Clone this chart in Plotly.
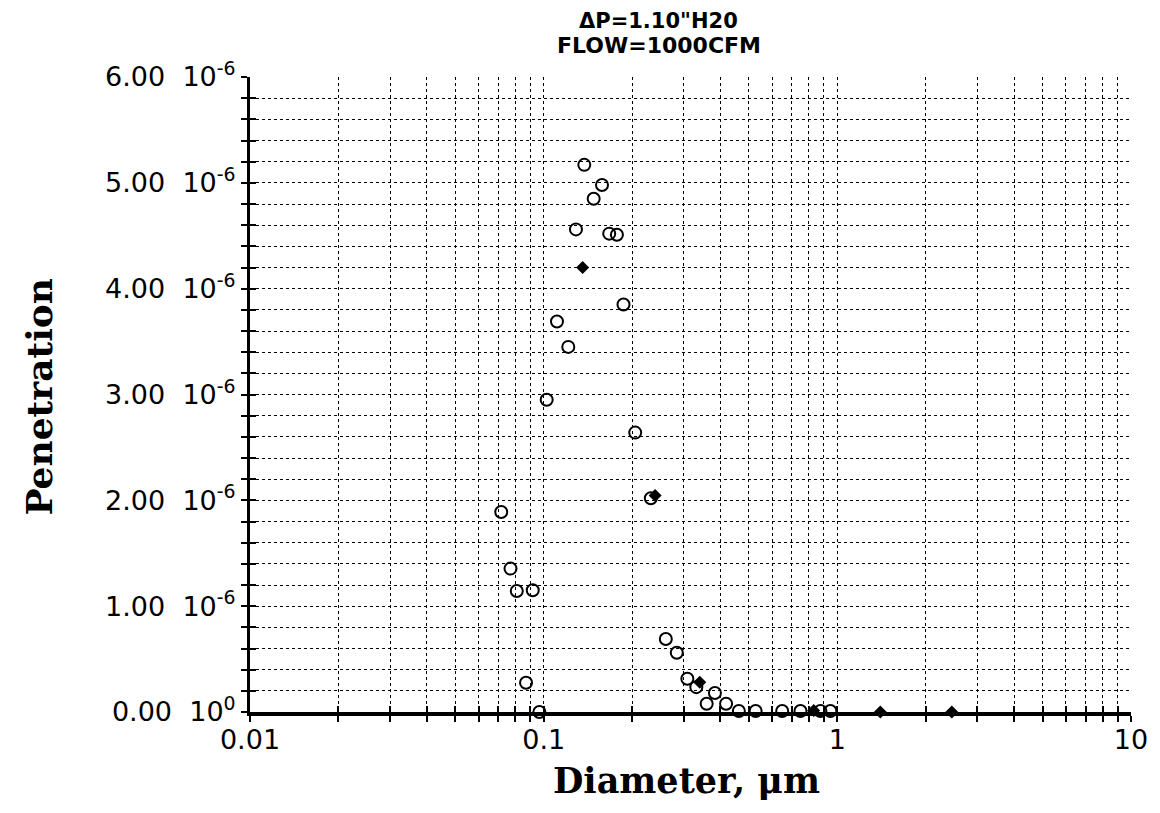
import plotly.graph_objects as go

# Open-circle series: diameter (um) and penetration
open_diam = [0.1375, 0.158, 0.148, 0.1288, 0.1672, 0.1776, 0.187, 0.111, 0.1213,
             0.1024, 0.205, 0.2317, 0.0717, 0.0771, 0.081, 0.0918, 0.0871, 0.0967,
             0.2606, 0.284, 0.3085, 0.331, 0.383, 0.359, 0.418, 0.462, 0.527,
             0.649, 0.749, 0.876, 0.947]
open_pen = [5.17e-6, 4.98e-6, 4.85e-6, 4.56e-6, 4.52e-6, 4.51e-6, 3.85e-6, 3.69e-6, 3.45e-6,
            2.95e-6, 2.64e-6, 2.02e-6, 1.89e-6, 1.355e-6, 1.143e-6, 1.15e-6, 0.276e-6, 0.0,
            0.69e-6, 0.56e-6, 0.314e-6, 0.235e-6, 0.18e-6, 0.078e-6, 0.078e-6, 0.01e-6, 0.01e-6,
            0.01e-6, 0.01e-6, 0.01e-6, 0.01e-6]

# Filled-diamond series
solid_diam = [0.1357, 0.2396, 0.340, 0.831, 1.401, 2.454]
solid_pen = [4.20e-6, 2.045e-6, 0.28e-6, 0.015e-6, 0.0, 0.0]

# Axis ticks / labels
x_decades = [0.01, 0.1, 1, 10]
x_decade_labels = ["0.01", "0.1", "1", "10"]
y_major = [0, 1e-6, 2e-6, 3e-6, 4e-6, 5e-6, 6e-6]
y_major_labels = ["0.00\u00a0\u00a010<sup>0</sup>", "1.00\u00a0\u00a010<sup>-6</sup>",
                  "2.00\u00a0\u00a010<sup>-6</sup>", "3.00\u00a0\u00a010<sup>-6</sup>",
                  "4.00\u00a0\u00a010<sup>-6</sup>", "5.00\u00a0\u00a010<sup>-6</sup>",
                  "6.00\u00a0\u00a010<sup>-6</sup>"]
title_lines = ["\u0394P=1.10\"H20", "FLOW=1000CFM"]
x_title = "Diameter, \u03bcm"
y_title = "Penetration"

# build full tick lists (grid at every 1..9 x decade, every 0.2e-6)
x_tickvals, x_ticktext = [], []
for d, lab in zip(x_decades[:-1], x_decade_labels[:-1]):
    for m in range(1, 10):
        x_tickvals.append(d * m)
        x_ticktext.append(lab if m == 1 else "")
x_tickvals.append(x_decades[-1])
x_ticktext.append(x_decade_labels[-1])

y_tickvals, y_ticktext = [], []
for i in range(31):
    v = i * 0.2e-6
    y_tickvals.append(v)
    y_ticktext.append(y_major_labels[i // 5] if i % 5 == 0 else "")

fig = go.Figure()
fig.add_trace(go.Scatter(
    x=open_diam, y=open_pen, mode="markers", cliponaxis=False,
    marker=dict(symbol="circle-open", size=12, color="black", line=dict(width=2, color="black")),
    showlegend=False))
fig.add_trace(go.Scatter(
    x=solid_diam, y=solid_pen, mode="markers", cliponaxis=False,
    marker=dict(symbol="diamond", size=10, color="black"),
    showlegend=False))
# invisible trace for the overlay axes carrying inward ticks
fig.add_trace(go.Scatter(x=[x_decades[0]], y=[y_major[0]], xaxis="x2", yaxis="y2",
                         mode="markers", marker=dict(opacity=0), showlegend=False,
                         hoverinfo="skip"))

tickfont = dict(family="DejaVu Sans", size=27, color="black")
x_range = [-2, 1]
y_range = [0, 6e-6]

# page body has an 8px margin, so the figure is sized/offset to compensate
fig.update_layout(
    width=1152, height=805,
    margin=dict(l=242, r=27, t=69, b=101),
    paper_bgcolor="white", plot_bgcolor="white",
    xaxis=dict(type="log", range=x_range, tickmode="array",
               tickvals=x_tickvals, ticktext=x_ticktext, tickfont=tickfont,
               showgrid=True, gridcolor="black", gridwidth=1, griddash="dot",
               showline=True, linecolor="black", linewidth=4,
               ticks="outside", ticklen=6, tickwidth=2, tickcolor="black",
               ticklabelstandoff=-5, zeroline=False),
    yaxis=dict(range=y_range, tickmode="array",
               tickvals=y_tickvals, ticktext=y_ticktext, tickfont=tickfont,
               showgrid=True, gridcolor="black", gridwidth=1, griddash="dot",
               showline=True, linecolor="black", linewidth=3,
               ticks="outside", ticklen=6, tickwidth=2, tickcolor="black",
               ticklabelstandoff=0, zeroline=False),
    xaxis2=dict(type="log", range=x_range, overlaying="x", anchor="y", side="bottom",
                tickmode="array", tickvals=x_tickvals, showticklabels=False,
                showgrid=False, zeroline=False, showline=False,
                ticks="inside", ticklen=6, tickwidth=2, tickcolor="black"),
    yaxis2=dict(range=y_range, overlaying="y", anchor="x", side="left",
                tickmode="array", tickvals=y_tickvals, showticklabels=False,
                showgrid=False, zeroline=False, showline=False,
                ticks="inside", ticklen=6, tickwidth=2, tickcolor="black"),
    annotations=[
        dict(text=title_lines[0], xref="paper", yref="paper", x=0.464, y=1, yshift=56,
             xanchor="center", yanchor="middle", showarrow=False,
             font=dict(family="DejaVu Sans", size=21, color="black", weight="bold")),
        dict(text=title_lines[1], xref="paper", yref="paper", x=0.464, y=1, yshift=32,
             xanchor="center", yanchor="middle", showarrow=False,
             font=dict(family="DejaVu Sans", size=22, color="black", weight="bold")),
        dict(text=x_title, xref="paper", yref="paper", x=0.495, y=0, yshift=-68,
             xanchor="center", yanchor="middle", showarrow=False,
             font=dict(family="DejaVu Serif", size=35, color="black", weight="bold")),
        dict(text=y_title, xref="paper", yref="paper", x=0, xshift=-212, y=0.5, yshift=-2,
             xanchor="center", yanchor="middle", showarrow=False, textangle=-90,
             font=dict(family="DejaVu Serif", size=36, color="black", weight="bold")),
    ],
)

fig.write_html("out.html")
